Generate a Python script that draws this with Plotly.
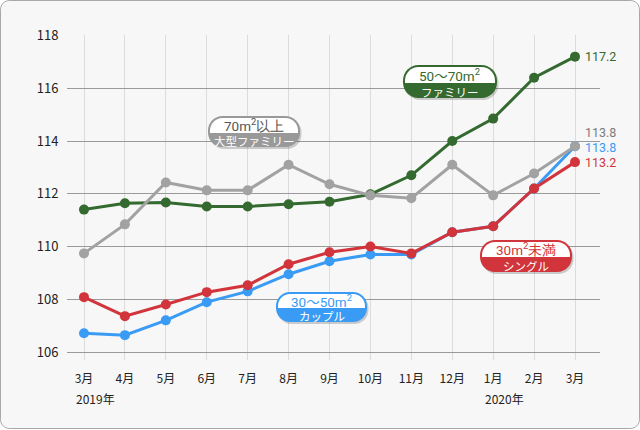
import plotly.graph_objects as go

months = ["3月", "4月", "5月", "6月", "7月", "8月", "9月", "10月", "11月", "12月", "1月", "2月", "3月"]
years = [("2019年", 0), ("2020年", 10)]

family_50_70 = [111.4, 111.64, 111.67, 111.52, 111.52, 111.6, 111.7, 111.98, 112.7, 114.0, 114.85, 116.4, 117.2]
large_70 = [109.74, 110.84, 112.43, 112.13, 112.13, 113.1, 112.36, 111.94, 111.83, 113.1, 111.94, 112.77, 113.8]
single_30 = [108.08, 107.36, 107.8, 108.27, 108.53, 109.33, 109.78, 110.0, 109.74, 110.54, 110.77, 112.2, 113.2]
couple_30_50 = [106.71, 106.64, 107.2, 107.89, 108.3, 108.95, 109.44, 109.7, 109.7, 110.54, 110.77, 112.2, 113.8]

y_ticks = [106, 108, 110, 112, 114, 116, 118]

GREEN = "#346a2f"
GRAY = "#a2a2a2"
RED = "#d1343a"
BLUE = "#3a9bf5"

FONT = "Noto Sans CJK JP"
NUMFONT = "Roboto"

W, H = 640, 430
L, R, T, B = 67, 600, 35, 360
PW, PH = R - L, B - T

def px(X):
    return (X - L) / PW

def py(Y):
    return (B - Y) / PH

def rr_path(x0, y0, x1, y1, rt, rb):
    k = 0.5523
    def P(x, y):
        return f"{px(x):.5f},{py(y):.5f}"
    s = f"M{P(x0 + rt, y0)} L{P(x1 - rt, y0)} "
    if rt > 0:
        s += f"C{P(x1 - rt + k*rt, y0)} {P(x1, y0 + rt - k*rt)} {P(x1, y0 + rt)} "
    s += f"L{P(x1, y1 - rb)} "
    if rb > 0:
        s += f"C{P(x1, y1 - rb + k*rb)} {P(x1 - rb + k*rb, y1)} {P(x1 - rb, y1)} "
    s += f"L{P(x0 + rb, y1)} "
    if rb > 0:
        s += f"C{P(x0 + rb - k*rb, y1)} {P(x0, y1 - rb + k*rb)} {P(x0, y1 - rb)} "
    s += f"L{P(x0, y0 + rt)} "
    if rt > 0:
        s += f"C{P(x0, y0 + rt - k*rt)} {P(x0 + rt - k*rt, y0)} {P(x0 + rt, y0)} "
    s += "Z"
    return s

fig = go.Figure()

series = [
    (couple_30_50, BLUE),
    (single_30, RED),
    (family_50_70, GREEN),
    (large_70, GRAY),
]
xs = list(range(len(months)))
for vals, col in series:
    fig.add_trace(go.Scatter(
        x=xs, y=vals, mode="lines+markers",
        line=dict(color=col, width=3),
        marker=dict(color=col, size=10),
        hoverinfo="skip", showlegend=False, cliponaxis=False,
    ))

shapes = []
# background frame
shapes.append(dict(type="path", xref="paper", yref="paper", layer="below",
                   path=rr_path(0.5, 0.5, 639.5, 428.5, 9, 9),
                   fillcolor="#f7f7f7", line=dict(color="#a8a8a8", width=1)))

annotations = []

# end value labels
end_labels = [
    (family_50_70[-1], GREEN, 0),
    (large_70[-1], "#7a7a7a", 14),
    (couple_30_50[-1], BLUE, -1),
    (single_30[-1], RED, 0),
]
for v, col, ys in end_labels:
    annotations.append(dict(x=12, y=v, xref="x", yref="y", text=f"{v:.1f}",
                            showarrow=False, xanchor="left", yanchor="middle",
                            xshift=9, yshift=ys, borderpad=0,
                            font=dict(family=NUMFONT, size=12.5, color=col)))

# year labels
for txt, idx in years:
    annotations.append(dict(x=idx, y=py(398), xref="x", yref="paper", text=txt,
                            showarrow=False, xanchor="left", yanchor="middle",
                            xshift=-10, font=dict(family=FONT, size=12, color="#222")))

WAVE = f'<span style="font-family:{FONT}">～</span>'

# badges: (top text, bottom text, color, top-text color, x0, y0, x1, y1, divider)
badges = [
    (f"50{WAVE}70m<sup>2</sup>", "ファミリー", GREEN, GREEN, 403, 65, 497, 98, 83),
    ("70m<sup>2</sup>以上", "大型ファミリー", "#999999", "#555555", 208, 116, 300, 147, 133),
    ("30m<sup>2</sup>未満", "シングル", RED, RED, 480, 240, 572, 272, 257),
    (f"30{WAVE}50m<sup>2</sup>", "カップル", BLUE, BLUE, 276, 292, 367, 322, 308),
]
for top, bot, col, tcol, x0, y0, x1, y1, d in badges:
    r = (y1 - y0) / 2 - 1
    shapes.append(dict(type="path", xref="paper", yref="paper", layer="above",
                       path=rr_path(x0 + 1.5, y0 + 2, x1 + 1.5, y1 + 2, r, r),
                       fillcolor="rgba(0,0,0,0.18)", line=dict(width=0)))
    shapes.append(dict(type="path", xref="paper", yref="paper", layer="above",
                       path=rr_path(x0, y0, x1, y1, r, r),
                       fillcolor=col, line=dict(width=0)))
    shapes.append(dict(type="path", xref="paper", yref="paper", layer="above",
                       path=rr_path(x0 + 2, y0 + 2, x1 - 2, d, r - 2, 0),
                       fillcolor="#ffffff", line=dict(width=0)))
    cx = (x0 + x1) / 2
    annotations.append(dict(x=px(cx), y=py((y0 + d) / 2 + 1), xref="paper", yref="paper",
                            text=top, showarrow=False, xanchor="center", yanchor="middle",
                            borderpad=0,
                            font=dict(family=NUMFONT, size=13.5, color=tcol)))
    annotations.append(dict(x=px(cx), y=py((d + y1) / 2 + 1), xref="paper", yref="paper",
                            text=bot, showarrow=False, xanchor="center", yanchor="middle",
                            borderpad=0,
                            font=dict(family=FONT, size=11.5, color="#ffffff")))

fig.update_layout(
    width=W, height=H,
    margin=dict(l=L, r=W - R, t=T, b=H - B, pad=0),
    paper_bgcolor="#ffffff",
    plot_bgcolor="rgba(0,0,0,0)",
    font=dict(family=FONT, color="#222"),
    shapes=shapes,
    annotations=annotations,
    xaxis=dict(
        range=[-17 / 40.92, 12 + 25 / 40.92],
        tickvals=xs, ticktext=months,
        showgrid=True, gridcolor="#dcdcdc", gridwidth=1,
        zeroline=False, showline=False,
        ticks="outside", ticklen=8, tickcolor="rgba(0,0,0,0)",
        tickfont=dict(family=FONT, size=12, color="#222"),
        fixedrange=True,
    ),
    yaxis=dict(
        range=[106 - 8 / 26.42, 118.02],
        tickvals=y_ticks,
        showgrid=True, gridcolor="#9a9a9a", gridwidth=1,
        zeroline=False, showline=False,
        ticks="outside", ticklen=5, tickcolor="rgba(0,0,0,0)",
        tickfont=dict(family=FONT, size=13, color="#222"),
        fixedrange=True,
    ),
)

fig.write_html("out.html", config={"displayModeBar": False},
               post_script="document.body.style.margin='0';document.body.style.overflow='hidden';")
